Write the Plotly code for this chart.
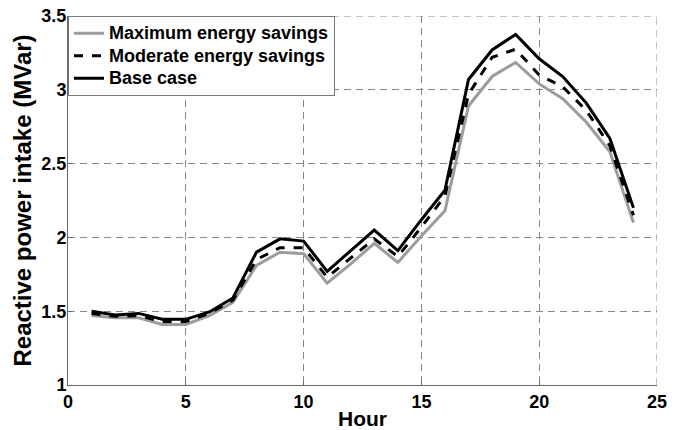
import plotly.graph_objects as go

hours = list(range(1, 25))
max_savings = [1.47, 1.455, 1.455, 1.41, 1.41, 1.47, 1.56, 1.81, 1.90, 1.89, 1.69, 1.82,
               1.96, 1.83, 2.01, 2.18, 2.89, 3.09, 3.185, 3.04, 2.94, 2.78, 2.58, 2.10]
moderate_savings = [1.485, 1.465, 1.47, 1.43, 1.43, 1.485, 1.575, 1.85, 1.93, 1.93, 1.73, 1.86,
                    1.99, 1.87, 2.07, 2.28, 2.97, 3.22, 3.275, 3.10, 3.02, 2.86, 2.62, 2.15]
base_case = [1.50, 1.475, 1.485, 1.445, 1.445, 1.495, 1.59, 1.90, 1.99, 1.975, 1.77, 1.91,
             2.05, 1.91, 2.12, 2.32, 3.07, 3.27, 3.375, 3.21, 3.09, 2.91, 2.67, 2.20]
series_names = ["Maximum energy savings", "Moderate energy savings", "Base case"]

x_ticks = [0, 5, 10, 15, 20, 25]
y_ticks = [1, 1.5, 2, 2.5, 3, 3.5]

grid_color = "#888"
grid_dash = "7px,5px"


def legend_label(name):
    return '<span style="font-size:18px">' + name + "</span>"


fig = go.Figure()
fig.add_trace(go.Scatter(x=hours, y=max_savings, mode="lines", name=legend_label(series_names[0]),
                         line=dict(color="#9c9c9c", width=3)))
fig.add_trace(go.Scatter(x=hours, y=moderate_savings, mode="lines", name=legend_label(series_names[1]),
                         line=dict(color="black", width=3, dash="dash")))
fig.add_trace(go.Scatter(x=hours, y=base_case, mode="lines", name=legend_label(series_names[2]),
                         line=dict(color="black", width=3)))

# dashed grid lines on the upper and right edges of the axes box (Plotly skips grid at range ends)
fig.add_shape(type="line", xref="x", yref="y", x0=x_ticks[0], x1=x_ticks[-1], y0=y_ticks[-1], y1=y_ticks[-1],
              line=dict(color=grid_color, width=1, dash=grid_dash), layer="below")
fig.add_shape(type="line", xref="x", yref="y", x0=x_ticks[-1], x1=x_ticks[-1], y0=y_ticks[0], y1=y_ticks[-1],
              line=dict(color=grid_color, width=1, dash=grid_dash), layer="below")

font_family = "Liberation Sans, Arial, sans-serif"
fig.update_layout(
    width=679, height=430,
    margin=dict(l=68, r=22, t=16, b=45, autoexpand=False),
    paper_bgcolor="white", plot_bgcolor="white",
    font=dict(family=font_family, color="black"),
    showlegend=True,
    legend=dict(x=0.0, y=1.0, xanchor="left", yanchor="top",
                bgcolor="white", bordercolor="#777", borderwidth=1,
                font=dict(size=15, family=font_family, weight="bold"),
                tracegroupgap=0, itemwidth=30),
)
fig.update_xaxes(range=[0, 25], tickvals=x_ticks, ticktext=[str(v) for v in x_ticks],
                 showgrid=True, gridcolor=grid_color, griddash=grid_dash, gridwidth=1,
                 showline=True, linecolor="#666", linewidth=1, mirror=False,
                 ticks="inside", ticklen=4, tickcolor="#666", zeroline=False, automargin=False,
                 tickfont=dict(size=18, family=font_family, weight="bold"),
                 title=dict(text="Hour", font=dict(size=21, family=font_family, weight="bold"), standoff=6))
fig.update_yaxes(range=[1, 3.5], tickvals=y_ticks, ticktext=["1", "1.5", "2", "2.5", "3", "3.5"],
                 showgrid=True, gridcolor=grid_color, griddash=grid_dash, gridwidth=1,
                 showline=True, linecolor="#666", linewidth=1, mirror=False,
                 ticks="inside", ticklen=4, tickcolor="#666", zeroline=False, automargin=False,
                 ticklabelstandoff=-3,
                 tickfont=dict(size=18, family=font_family, weight="bold"),
                 title=dict(text="Reactive power intake (MVar)", font=dict(size=24, family=font_family, weight="bold"), standoff=2))

fig.write_html("out.html")
